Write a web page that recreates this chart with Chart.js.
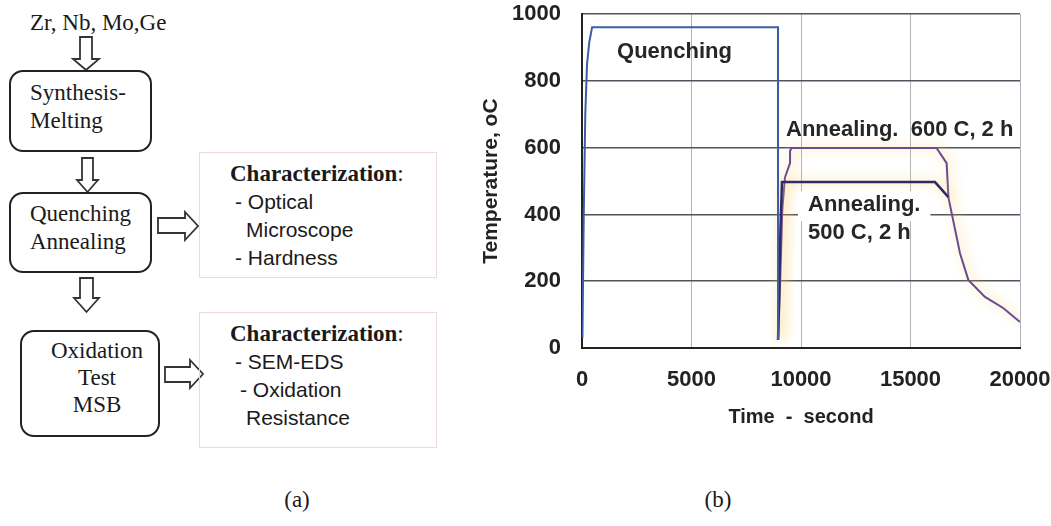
<!DOCTYPE html>
<html lang="en">
<head>
<meta charset="UTF-8">
<title>Heat treatment</title>
<style>
  body {
    margin: 0;
    width: 1051px;
    height: 526px;
    background: #fff;
    position: relative;
    overflow: hidden;
    color: #1a1a1a;
    font-family: "Liberation Serif", serif;
  }
  .txt {
    position: absolute;
    font-family: "Liberation Serif", serif;
    font-size: 23px;
    line-height: 28px;
    white-space: nowrap;
  }
  .box {
    position: absolute;
    border: 2px solid #222;
    border-radius: 14px;
    box-sizing: border-box;
  }
  .char {
    position: absolute;
    border: 1.5px solid #ecdada;
    box-sizing: border-box;
  }
  .ctext {
    position: absolute;
    left: 230px;
    font-family: "Liberation Sans", Arial, sans-serif;
    font-size: 21px;
    line-height: 28px;
    white-space: nowrap;
  }
  .ctext .hd {
    font-family: "Liberation Serif", serif;
    font-size: 23px;
  }
  #arrows {
    position: absolute;
    left: 0;
    top: 0;
  }
  #chartWrap {
    position: absolute;
    left: 470px;
    top: -20px;
    width: 581px;
    height: 460px;
  }
</style>
</head>
<body>
  <!-- (a) flow chart -->
  <svg id="arrows" width="470" height="526">
    <g fill="#fff" stroke="#333" stroke-width="1.8" stroke-linejoin="miter">
      <path d="M80,37 L92,37 L92,59 L99,59 L86,70 L73,59 L80,59 Z"/>
      <path d="M82,158 L93,158 L93,180 L98,180 L87.5,192 L77,180 L82,180 Z"/>
      <path d="M80,278 L93,278 L93,298 L99,298 L86.5,312 L74,298 L80,298 Z"/>
      <path d="M158,218 L185,218 L185,212 L198,226 L185,240 L185,233 L158,233 Z"/>
      <path d="M165,367 L190,367 L190,360 L203,374 L190,388 L190,382 L165,382 Z"/>
    </g>
  </svg>

  <div class="txt" style="left:30px; top:9px;">Zr, Nb, Mo,Ge</div>

  <div class="box" style="left:9px; top:70px; width:143px; height:82px;"></div>
  <div class="txt" style="left:30px; top:79px;">Synthesis-<br>Melting</div>

  <div class="box" style="left:9px; top:192px; width:143px; height:81px;"></div>
  <div class="txt" style="left:30px; top:200px;">Quenching<br>Annealing</div>

  <div class="box" style="left:20px; top:330px; width:140px; height:107px;"></div>
  <div class="txt" style="left:46px; top:337px; width:102px; text-align:center; line-height:27px;">Oxidation<br>Test<br>MSB</div>

  <div class="char" style="left:199px; top:152px; width:238px; height:126px;"></div>
  <div class="ctext" style="top:160px;">
    <div class="hd"><b>Characterization</b>:</div>
    <div style="padding-left:5px;">- Optical</div>
    <div style="padding-left:16px;">Microscope</div>
    <div style="padding-left:5px;">- Hardness</div>
  </div>

  <div class="char" style="left:199px; top:312px; width:238px; height:136px;"></div>
  <div class="ctext" style="top:320px;">
    <div class="hd"><b>Characterization</b>:</div>
    <div style="padding-left:5px;">- SEM-EDS</div>
    <div style="padding-left:10px;">- Oxidation</div>
    <div style="padding-left:16px;">Resistance</div>
  </div>

  <div class="txt" style="left:272px; top:486px; width:50px; text-align:center;">(a)</div>
  <div class="txt" style="left:693px; top:486px; width:50px; text-align:center;">(b)</div>

  <!-- (b) temperature profile -->
  <div id="chartWrap">
    <canvas id="tempChart" width="581" height="460"></canvas>
  </div>

  <script src="https://cdn.jsdelivr.net/npm/chart.js"></script>
  <script>
    // time (s) / temperature (oC)
    const timeQuench = [20, 80, 150, 230, 330, 460, 8950, 8955, 8950];
    const tempQuench = [30, 400, 700, 850, 915, 961, 961, 300, 24];

    const time500 = [8950, 9000, 9060, 9130, 16120, 16730];
    const temp500 = [24, 150, 350, 497, 497, 452];

    const time600 = [8960, 9050, 9150, 9270, 9500, 9500, 9560, 16190, 16650, 16730, 16880, 17260, 17640, 18400, 19230, 20000];
    const temp600 = [24, 200, 420, 512, 554, 590, 599, 599, 554, 452, 404, 284, 204, 153, 120, 78];

    const xTicks = [0, 5000, 10000, 15000, 20000];
    const yTicks = [0, 200, 400, 600, 800, 1000];

    const toPoints = (xs, ys) => xs.map((x, i) => ({ x: x, y: ys[i] }));

    // labels written inside the plot, placed in data units
    const notes = [
      { text: 'Quenching', x: 1600, y: 886, bg: false },
      { text: 'Annealing.  600 C, 2 h', x: 9315, y: 653, bg: false },
      { text: 'Annealing.', x: 10320, y: 428, bg: true },
      { text: '500 C, 2 h', x: 10320, y: 344, bg: false }
    ];

    const FONT = '"Liberation Sans", Arial, sans-serif';

    // pale yellow halo seen round the annealing curves in the scan
    const glowPlugin = {
      id: 'glow',
      beforeDatasetDraw(chart, args) {
        if (args.index === 0) return;
        const ctx = chart.ctx;
        ctx.save();
        ctx.shadowColor = 'rgba(248, 208, 100, 0.95)';
        ctx.shadowBlur = 12;
        ctx.shadowOffsetX = 3;
      },
      afterDatasetDraw(chart, args) {
        if (args.index === 0) return;
        chart.ctx.restore();
      }
    };

    const notesPlugin = {
      id: 'notes',
      afterDatasetsDraw(chart) {
        const ctx = chart.ctx;
        const xs = chart.scales.x, ys = chart.scales.y;
        ctx.save();
        ctx.font = 'bold 22px ' + FONT;
        ctx.textBaseline = 'middle';
        ctx.textAlign = 'left';
        notes.forEach(n => {
          const px = xs.getPixelForValue(n.x);
          const py = ys.getPixelForValue(n.y);
          if (n.bg) {
            const w = ctx.measureText(n.text).width;
            ctx.fillStyle = '#fff';
            ctx.fillRect(px - 10, py - 14, w + 20, 30);
          }
          ctx.fillStyle = '#262626';
          ctx.fillText(n.text, px, py);
        });
        ctx.restore();
      }
    };

    new Chart(document.getElementById('tempChart'), {
      type: 'scatter',
      data: {
        datasets: [
          {
            label: 'Quenching',
            data: toPoints(timeQuench, tempQuench),
            borderColor: '#3d5ca6',
            borderWidth: 2
          },
          {
            label: 'Annealing 500 C',
            data: toPoints(time500, temp500),
            borderColor: '#302b68',
            borderWidth: 2.5
          },
          {
            label: 'Annealing 600 C',
            data: toPoints(time600, temp600),
            borderColor: '#6a4a90',
            borderWidth: 2
          }
        ]
      },
      options: {
        responsive: false,
        animation: false,
        showLine: true,
        elements: {
          point: { radius: 0 },
          line: { tension: 0, fill: false }
        },
        layout: { padding: { left: 0, top: 14, right: 0, bottom: 0 } },
        plugins: {
          legend: { display: false },
          tooltip: { enabled: false }
        },
        scales: {
          x: {
            type: 'linear',
            min: 0,
            max: 20000,
            afterBuildTicks: s => { s.ticks = xTicks.map(v => ({ value: v })); },
            afterFit: s => { s.height = 92; s.paddingRight = 31; },
            ticks: {
              padding: 19,
              color: '#222',
              font: { family: FONT, size: 22, weight: 'bold' },
              callback: v => String(v)
            },
            grid: { color: '#b4b4bc', lineWidth: 1, drawTicks: false },
            border: { color: '#222', width: 2 },
            title: {
              display: true,
              text: 'Time  -  second',
              color: '#222',
              font: { family: FONT, size: 20, weight: 'bold' },
              padding: { top: 0, bottom: 11 }
            }
          },
          y: {
            type: 'linear',
            min: 0,
            max: 1000,
            afterBuildTicks: s => { s.ticks = yTicks.map(v => ({ value: v })); },
            afterFit: s => { s.width = 112; },
            ticks: {
              padding: 21,
              color: '#222',
              font: { family: FONT, size: 22, weight: 'bold' },
              callback: v => String(v)
            },
            grid: { color: '#50545f', lineWidth: 1.5, drawTicks: false },
            border: { color: '#222', width: 2 },
            title: {
              display: true,
              text: 'Temperature, oC',
              color: '#222',
              font: { family: FONT, size: 21, weight: 'bold' },
              padding: { top: 9, bottom: 0 }
            }
          }
        }
      },
      plugins: [glowPlugin, notesPlugin]
    });
  </script>
</body>
</html>
